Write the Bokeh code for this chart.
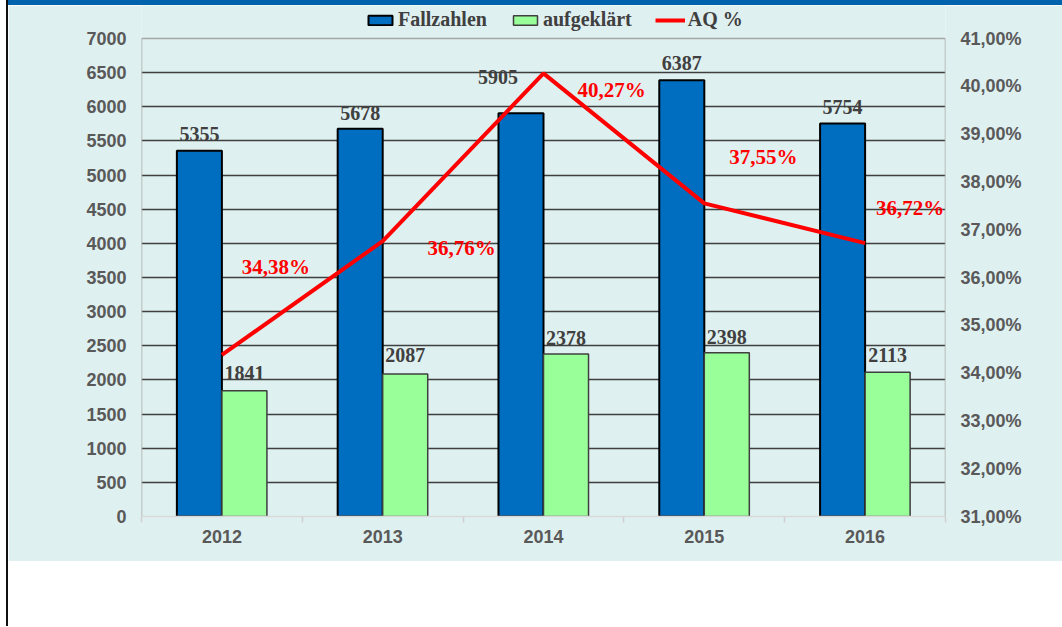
from bokeh.plotting import figure
from bokeh.models import (ColumnDataSource, Range1d, LinearAxis, FixedTicker,
                          Legend, LegendItem, Span)
from bokeh.core.properties import value
from bokeh.embed import file_html
from bokeh.resources import INLINE

# ---- data ----
years = ["2012", "2013", "2014", "2015", "2016"]
fallzahlen = [5355, 5678, 5905, 6387, 5754]
aufgeklaert = [1841, 2087, 2378, 2398, 2113]
aq_percent = [34.38, 36.76, 40.27, 37.55, 36.72]
left_ticks = [0, 500, 1000, 1500, 2000, 2500, 3000, 3500, 4000, 4500, 5000, 5500, 6000, 6500, 7000]
right_ticks = [31, 32, 33, 34, 35, 36, 37, 38, 39, 40, 41]
right_tick_labels = ["31,00%", "32,00%", "33,00%", "34,00%", "35,00%", "36,00%",
                     "37,00%", "38,00%", "39,00%", "40,00%", "41,00%"]

# label offsets in screen pixels (manual placements seen in the reference)
blue_lbl_dx = [0, 0, -23, 0, 0]
blue_lbl_dy = [-17, -16, -36, -17, -17]
green_lbl_dy = [-18, -19, -16, -16, -17]
red_lbl_dx = [54, 79, 68, 59, 45]
red_lbl_dy = [-88, 7, 17, -46, -35]

BG = "#DFF0F0"
BLUE = "#006EC0"
GREEN = "#99FF99"
GRAY_TXT = "#595959"
DARK_TXT = "#404040"

n = len(years)
centers = [i + 0.5 for i in range(n)]
bw = 0.28

# layout: the frame runs from the top of the figure (legend sits inside it)
FIG_W, FIG_H = 1054, 626
TOP_PAD = 33          # pixels above the 7000 line
PLOT_H = 478          # pixels between 0 and 7000
y_min, y_max = left_ticks[0], left_ticks[-1]
p_min, p_max = right_ticks[0], right_ticks[-1]
frame_h = PLOT_H + TOP_PAD
y_end = y_min + (y_max - y_min) * frame_h / PLOT_H
p_end = p_min + (p_max - p_min) * frame_h / PLOT_H

p = figure(width=FIG_W, height=FIG_H, output_backend="svg", toolbar_location=None,
           x_range=Range1d(0, n), y_range=Range1d(y_min, y_end),
           min_border_left=133, min_border_right=117, min_border_top=0,
           min_border_bottom=115)
p.styles = {"border-top": "5px solid #0062AC", "border-bottom": "65px solid #FFFFFF",
            "margin-left": "8px", "box-shadow": "-2px 0px 0px 0px #111111"}
p.background_fill_color = BG
p.border_fill_color = BG
p.outline_line_color = None
p.extra_y_ranges = {"pct": Range1d(p_min, p_end)}

src = ColumnDataSource(dict(
    xb=[c - bw / 2 for c in centers],
    xg=[c + bw / 2 for c in centers],
    xc=centers,
    fall=fallzahlen,
    auf=aufgeklaert,
    aq=aq_percent,
    fall_lbl=[str(v) for v in fallzahlen],
    auf_lbl=[str(v) for v in aufgeklaert],
    aq_lbl=[("%.2f" % v).replace(".", ",") + "%" for v in aq_percent],
    bdx=blue_lbl_dx, bdy=blue_lbl_dy, gdy=green_lbl_dy,
    rdx=red_lbl_dx, rdy=red_lbl_dy,
))

# grid
p.xgrid.visible = False
p.ygrid.ticker = FixedTicker(ticks=left_ticks[1:-1])
p.ygrid.grid_line_color = "#3F3F3F"
p.ygrid.grid_line_width = 1.5
# plot-area border (top, left, right)
p.add_layout(Span(location=y_max, dimension="width", line_color="#A6A6A6", line_width=1.5))
p.segment(x0=[0, n], y0=[y_min, y_min], x1=[0, n], y1=[y_max, y_max],
          line_color="#A6A6A6", line_width=1.5)

# bars
rb = p.vbar(x="xb", top="fall", width=bw, source=src, fill_color=BLUE,
            line_color="black", line_width=2)
rg = p.vbar(x="xg", top="auf", width=bw, source=src, fill_color=GREEN,
            line_color="#3F3F3F", line_width=1.5)
# line
rl = p.line(x="xc", y="aq", source=src, y_range_name="pct", line_color="#FF0000",
            line_width=4)

# labels
p.text(x="xb", y="fall", text="fall_lbl", source=src, x_offset="bdx", y_offset="bdy",
       text_font=value("Liberation Serif"), text_font_style="bold",
       text_font_size="20px", text_color=DARK_TXT, text_align="center",
       text_baseline="middle")
p.text(x="xg", y="auf", text="auf_lbl", source=src, y_offset="gdy",
       text_font=value("Liberation Serif"), text_font_style="bold",
       text_font_size="20px", text_color=DARK_TXT, text_align="center",
       text_baseline="middle")
p.text(x="xc", y="aq", text="aq_lbl", source=src, y_range_name="pct",
       x_offset="rdx", y_offset="rdy",
       text_font=value("Liberation Serif"), text_font_style="bold",
       text_font_size="21px", text_color="#FF0000", text_align="center",
       text_baseline="middle")

# axes
def style_axis(ax):
    ax.major_label_text_font = "Liberation Sans"
    ax.major_label_text_font_style = "bold"
    ax.major_label_text_font_size = "18px"
    ax.major_label_text_color = GRAY_TXT
    ax.major_tick_in = 0
    ax.major_tick_out = 0
    ax.minor_tick_in = 0
    ax.minor_tick_out = 0
    ax.major_label_standoff = 15

yl = p.yaxis[0]
yl.ticker = FixedTicker(ticks=left_ticks)
style_axis(yl)
yl.axis_line_color = None

yr = LinearAxis(y_range_name="pct")
yr.ticker = FixedTicker(ticks=right_ticks)
yr.major_label_overrides = {t: l for t, l in zip(right_ticks, right_tick_labels)}
style_axis(yr)
yr.axis_line_color = None
p.add_layout(yr, "right")

xa = p.xaxis[0]
xa.ticker = FixedTicker(ticks=centers, minor_ticks=list(range(n + 1)))
xa.major_label_overrides = {c: y for c, y in zip(centers, years)}
style_axis(xa)
xa.major_label_standoff = 7
xa.minor_tick_out = 6
xa.minor_tick_line_color = "#D0D0D0"
xa.minor_tick_line_width = 1.5
xa.axis_line_color = "#D9D9D9"
xa.axis_line_width = 1.5

# legend (inside the frame, above the 7000 line)
legend = Legend(items=[LegendItem(label="Fallzahlen", renderers=[rb]),
                       LegendItem(label="aufgeklärt", renderers=[rg]),
                       LegendItem(label="AQ %", renderers=[rl])],
                orientation="horizontal", location=(224, 485),
                margin=0, padding=0, spacing=23, label_standoff=3,
                glyph_width=30, glyph_height=12, label_height=22,
                border_line_color=None, background_fill_alpha=0,
                label_text_font="Liberation Serif", label_text_font_style="bold",
                label_text_font_size="20px", label_text_color=DARK_TXT)
p.add_layout(legend, "center")

open("out.html", "w").write(file_html(p, INLINE))
